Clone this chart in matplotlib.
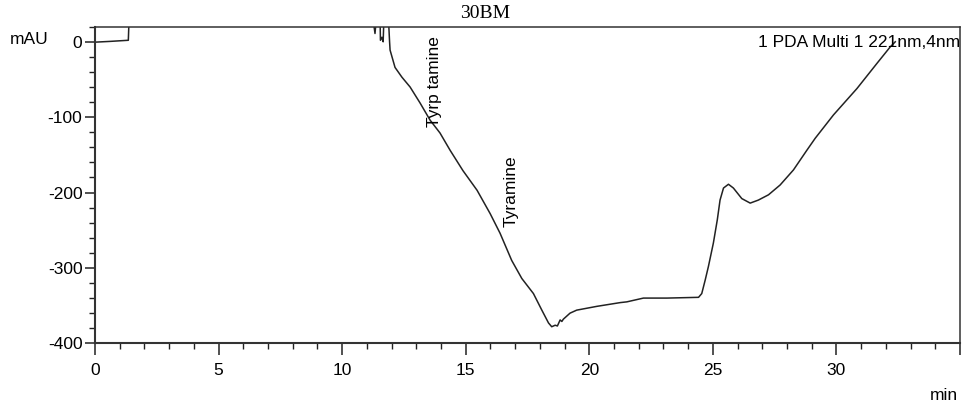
"""Chromatogram of sample 30BM (PDA channel 221 nm) with the amine peaks marked."""

import matplotlib

matplotlib.use("Agg")
import matplotlib.pyplot as plt
from matplotlib.ticker import FixedLocator, FuncFormatter, MultipleLocator

# Detector trace: retention time (min) and absorbance (mAU).
# Values above the plot ceiling are off-scale and get clipped.
TIME_MIN = [
    0.0, 0.6, 1.35, 1.39, 11.21, 11.33, 11.41, 11.53, 11.55, 11.61,
    11.66, 11.70, 11.86, 11.92, 11.94, 12.14, 12.42, 12.75, 13.15, 13.56,
    13.96, 14.37, 14.89, 15.46, 15.99, 16.39, 16.86, 17.27, 17.74, 18.08,
    18.35, 18.48, 18.62, 18.71, 18.82, 18.89, 18.95, 19.22, 19.49, 20.30,
    21.25, 21.52, 22.19, 23.14, 24.42, 24.55, 24.69, 24.82, 25.02, 25.18,
    25.29, 25.43, 25.63, 25.83, 26.17, 26.51, 26.84, 27.25, 27.72, 28.26,
    28.80, 29.14, 29.88, 30.83, 31.63, 32.17, 32.38,
]
SIGNAL_MAU = [
    -0.5, 0.5, 2.0, 40.0, 40.0, 11.0, 40.0, 40.0, 2.0, 6.0,
    0.0, 40.0, 40.0, 0.0, -11.0, -34.0, -47.0, -60.0, -81.0, -104.0,
    -121.0, -144.0, -171.0, -197.0, -228.0, -254.0, -290.0, -314.0, -334.0, -356.0,
    -373.0, -378.0, -376.0, -377.0, -369.0, -371.0, -368.0, -360.0, -356.0, -351.0,
    -346.0, -345.0, -340.0, -340.0, -339.0, -334.0, -316.0, -298.0, -267.0, -236.0,
    -210.0, -194.0, -189.0, -194.0, -208.0, -214.0, -210.0, -203.0, -190.0, -170.0,
    -144.0, -128.0, -97.0, -62.0, -29.0, -7.0, 0.0,
]

# Identified peaks: name and retention time (min)
PEAK_NAMES = ["Tyrp tamine", "Tyramine"]
PEAK_RT = [13.75, 16.82]

X_MAJOR = [0, 5, 10, 15, 20, 25, 30, 35]
X_LABELS = ["0", "5", "10", "15", "20", "25", "30", ""]

SAMPLE = "30BM"
CHANNEL = "1 PDA Multi 1 221nm,4nm"

plt.rcParams["font.family"] = ["Liberation Sans", "DejaVu Sans"]
plt.rcParams["axes.unicode_minus"] = False

fig = plt.figure(figsize=(9.67, 4.09), dpi=100)
ax = fig.add_axes([0.0982, 0.1606, 0.8946, 0.7741])

ax.plot(TIME_MIN, SIGNAL_MAU, color="#222222", lw=1.1)

ax.set_xlim(0, 35)
ax.set_ylim(-400, 20)

ax.xaxis.set_major_locator(FixedLocator(X_MAJOR))
ax.xaxis.set_major_formatter(FuncFormatter(lambda v, p: X_LABELS[X_MAJOR.index(int(round(v)))]))
ax.xaxis.set_minor_locator(MultipleLocator(1))
ax.yaxis.set_major_locator(MultipleLocator(100))
ax.yaxis.set_minor_locator(MultipleLocator(20))

ax.tick_params(axis="x", which="major", direction="out", length=8.5, width=1.1,
               pad=6, labelsize=12.5, color="#222222")
ax.tick_params(axis="x", which="minor", direction="out", length=4.5, width=1.0, color="#222222")
ax.tick_params(axis="y", which="major", direction="out", length=7.5, width=1.1,
               pad=1.5, labelsize=12.5, color="#222222")
ax.tick_params(axis="y", which="minor", direction="out", length=4, width=1.0, color="#222222")

for side in ("left", "bottom", "top", "right"):
    ax.spines[side].set_linewidth(1.1)
    ax.spines[side].set_color("#333333")
ax.spines["bottom"].set_linewidth(1.5)
ax.spines["left"].set_linewidth(1.5)

# Peak names, written vertically beside the trace at their retention times
label_base = [-113, -246]
for name, rt, base in zip(PEAK_NAMES, PEAK_RT, label_base):
    ax.text(rt, base, name, rotation=90, ha="center", va="bottom", fontsize=12.5)

ax.text(1.0, 0.95, CHANNEL, transform=ax.transAxes, ha="right", va="center", fontsize=12.5)

fig.text(485 / 967, 1 - 13 / 409, SAMPLE, ha="center", va="center",
         fontsize=14, family=["Liberation Serif", "DejaVu Serif"])
fig.text(10 / 967, 1 - 40 / 409, "mAU", ha="left", va="center", fontsize=12.5)
fig.text(958 / 967, 1 - 395 / 409, "min", ha="right", va="center", fontsize=12.5)

fig.savefig("out.png", dpi=100)
